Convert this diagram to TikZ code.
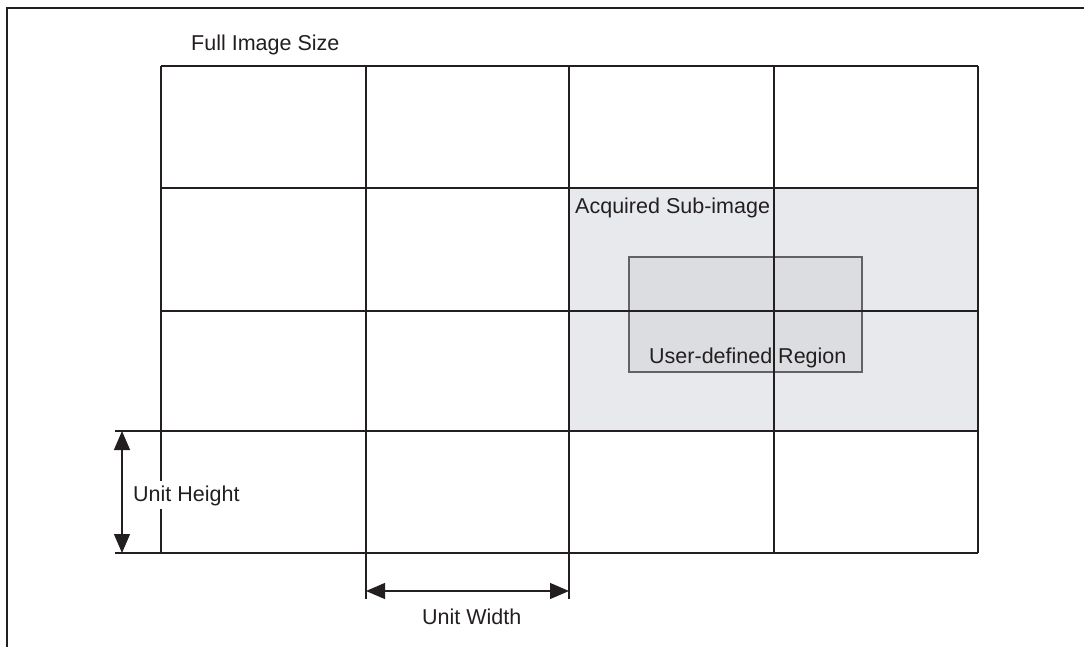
\documentclass[tikz,border=0pt]{standalone}
\usepackage{fontspec}
\setmainfont{Liberation Sans}
\usepackage{tikz}
\usetikzlibrary{arrows.meta}
\usetikzlibrary{positioning}
\definecolor{ink}{HTML}{231F20}
\definecolor{subfill}{HTML}{E8E9EC}
\definecolor{roifill}{HTML}{DCDDE0}
\newcommand{\capnode}[3]{\node(#1)[caption] at (#2){#3}}

\begin{document}
\begin{tikzpicture}[
        x=1pt, y=-1pt,
        every node/.style={font=\fontsize{21.5}{24}\selectfont},
        caption/.style={anchor=base west,inner sep=0pt,text=ink},
        gridline/.style={draw=ink,line width=1.2pt},
        rowline/.style={draw=ink,line width=1.8pt},
        dimline/.style={draw=ink,line width=1.2pt,
                        {Triangle[length=19pt,width=16pt]}-{Triangle[length=19pt,width=16pt]}}
      ]
      \useasboundingbox (0,0) rectangle (1084,647);
      \draw[ink,line width=2.6pt] (7,647) -- (7,8) -- (1084,8);
      % shaded areas
      \fill[subfill] (569,188) rectangle (978,431);
      \draw[fill=roifill,draw=ink!70,line width=1.2pt] (629,257) rectangle (862,372);
      % grid
      \foreach \x in {161,774,978} {\draw[gridline] (\x,66) -- (\x,553);}
      \foreach \x in {366,569} {\draw[gridline] (\x,66) -- (\x,599);}
      \draw[gridline] (161,66) -- (978,66);
      \foreach \y in {188,311} {\draw[rowline] (161,\y) -- (978,\y);}
      \draw[rowline] (115,431) -- (978,431);
      \draw[gridline] (115,553) -- (978,553);
      % dimensions
      \coordinate (uhtop) at (122,431);
      \coordinate (uhbot) at (122,553);
      \coordinate (uwleft) at (366,591);
      \coordinate (uwright) at (569,591);
      \draw[dimline] (uhtop) -- (uhbot);
      \draw[dimline] (uwleft) -- (uwright);
      % labels
      \capnode{fullsize}{191,51}{Full Image Size};
      \capnode{subimage}{575,214}{Acquired Sub-image};
      \capnode{roi}{649,363}{User-defined Region};
      \capnode{unitw}{422,624}{Unit Width};
      \node(unith)[caption,inner sep=4pt,fill=white] at (129,501){Unit Height};
    \end{tikzpicture}
\end{document}
